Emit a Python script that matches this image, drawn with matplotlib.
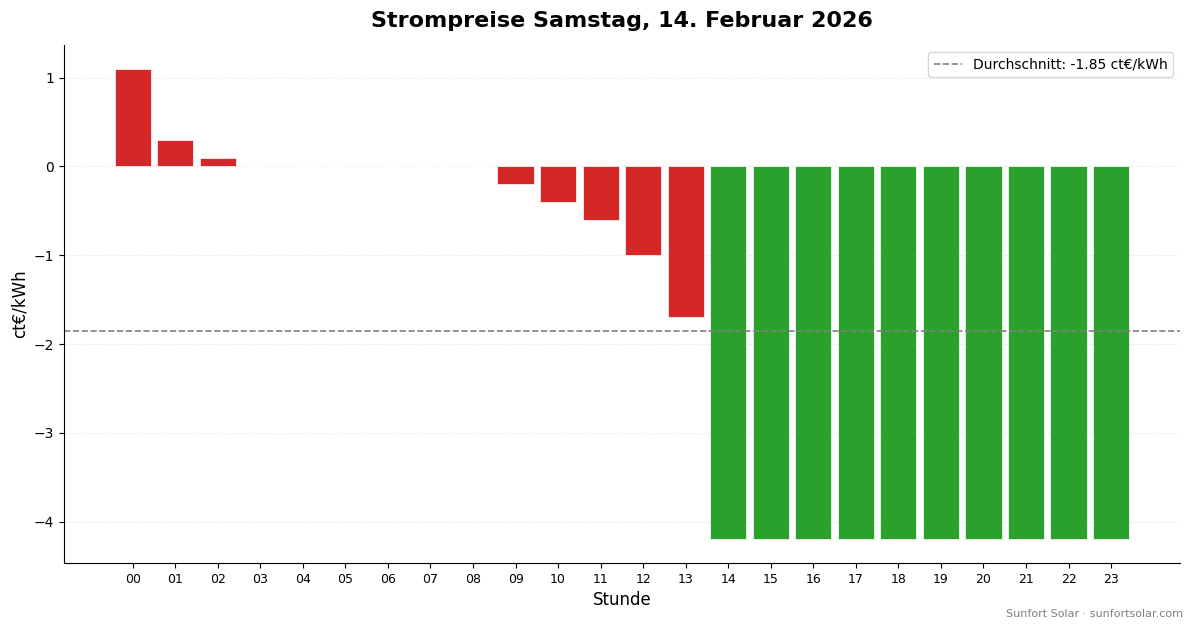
import matplotlib
matplotlib.use("Agg")
import matplotlib.pyplot as plt

# Hourly prices, ct/kWh
hours = [f"{h:02d}" for h in range(24)]
prices = [1.1, 0.3, 0.1, 0.0, 0.0, 0.0, 0.0, 0.0, 0.0,
          -0.2, -0.4, -0.6, -1.0, -1.7,
          -4.2, -4.2, -4.2, -4.2, -4.2, -4.2, -4.2, -4.2, -4.2, -4.2]
average = sum(prices) / len(prices)

colors = ['#2ca02c' if p < average else '#d62728' for p in prices]

fig, ax = plt.subplots(figsize=(11.93, 6.28), dpi=100)
fig.subplots_adjust(left=0.0536, right=0.989, top=0.928, bottom=0.1035)

ax.bar(range(24), prices, color=colors, width=0.85, edgecolor='white', linewidth=0.5)
ax.axhline(average, color='gray', linestyle='--', linewidth=1.2,
           label=f"Durchschnitt: {average:.2f} ct€/kWh")

ax.set_xticks(range(24))
ax.set_xticklabels(hours, fontsize=9)
ax.tick_params(axis='y', labelsize=10)
ax.set_xlabel("Stunde", fontsize=12)
ax.set_ylabel("ct€/kWh", fontsize=12)
ax.set_title("Strompreise Samstag, 14. Februar 2026", fontsize=16, fontweight='bold', pad=13)
ax.grid(axis='y', linestyle=':', color='lightgray', alpha=0.7)
ax.set_axisbelow(True)
ax.spines['top'].set_visible(False)
ax.spines['right'].set_visible(False)
ax.legend(loc='upper right', fontsize=10)

fig.text(0.992, 0.015, "Sunfort Solar · sunfortsolar.com", ha='right', va='bottom',
         fontsize=8, color='gray')

plt.savefig("out.png", dpi=100)
